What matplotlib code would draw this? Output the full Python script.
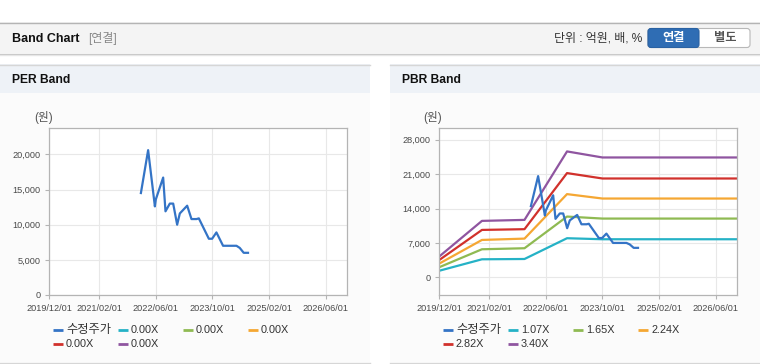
import matplotlib
matplotlib.use("Agg")
import matplotlib.pyplot as plt
import matplotlib.dates as mdates
from matplotlib.patches import Rectangle, FancyBboxPatch
import pandas as pd

plt.rcParams['font.family'] = ['Liberation Sans', 'Noto Sans CJK KR', 'DejaVu Sans']

# 수정주가 (원)
price_dates = ["2022-01-25", "2022-03-28", "2022-05-25", "2022-06-02", "2022-08-04",
               "2022-08-24", "2022-09-30", "2022-10-29", "2022-12-02", "2022-12-25",
               "2023-02-26", "2023-04-04", "2023-05-17", "2023-06-06", "2023-08-31",
               "2023-09-28", "2023-11-04", "2023-12-31", "2024-04-24", "2024-05-22",
               "2024-06-25", "2024-08-01"]
price_values = [14500, 20600, 12600, 13600, 16700,
                11900, 13000, 13000, 10000, 11600,
                12700, 10800, 10800, 10900, 8000,
                8000, 8900, 7000, 7000, 6700,
                6000, 6000]

# PBR 밴드 (원)
band_dates = ["2019-12-01", "2020-12-01", "2021-12-01", "2022-12-01", "2023-10-01", "2026-12-01"]
band_107 = [1340, 3670, 3730, 7960, 7750, 7750]
band_165 = [2060, 5710, 5920, 12370, 11960, 11960]
band_224 = [2800, 7610, 7880, 16940, 16040, 16040]
band_282 = [3530, 9650, 9800, 21220, 20120, 20120]
band_340 = [4250, 11490, 11690, 25630, 24400, 24400]

per_labels = ["0.00X", "0.00X", "0.00X", "0.00X", "0.00X"]
pbr_labels = ["1.07X", "1.65X", "2.24X", "2.82X", "3.40X"]

xtick_dates = ["2019-12-01", "2021-02-01", "2022-06-01", "2023-10-01", "2025-02-01", "2026-06-01"]
per_yticks = [0, 5000, 10000, 15000, 20000]
pbr_yticks = [0, 7000, 14000, 21000, 28000]

price_color = "#3474c6"
band_colors = ["#25b2c6", "#8fba52", "#f5a733", "#d1312c", "#8f55a0"]

fig = plt.figure(figsize=(7.6, 3.64), dpi=100)
fig.patch.set_facecolor("white")

# 배경 (픽셀 좌표)
bg = fig.add_axes([0, 0, 1, 1], zorder=-10)
bg.set_xlim(0, 760)
bg.set_ylim(364, 0)
bg.axis("off")

bg.add_patch(Rectangle((0, 22), 760, 31, facecolor="#f4f4f4", edgecolor="none"))
bg.plot([0, 760], [22.5, 22.5], color="#b4b4b4", lw=1)
bg.plot([0, 760], [53.5, 53.5], color="#c4c4c4", lw=1)
bg.plot([0, 760], [54.5, 54.5], color="#e6e6e6", lw=1)
bg.text(12, 38.5, "Band Chart", fontsize=9, fontweight="bold", color="#111", va="center")
bg.text(88, 38.5, "[연결]", fontsize=8.6, color="#888", va="center")
bg.text(642, 38.5, "단위 : 억원, 배, %", fontsize=8.6, color="#333", va="center", ha="right")
bg.add_patch(FancyBboxPatch((648, 28.5), 102, 19, boxstyle="round,pad=0,rounding_size=3",
                            facecolor="white", edgecolor="#b8b8b8", lw=0.8))
bg.add_patch(FancyBboxPatch((648, 28.5), 51, 19, boxstyle="round,pad=0,rounding_size=3",
                            facecolor="#2f6db4", edgecolor="#2a62a3", lw=0.8))
bg.text(673.5, 38.5, "연결", fontsize=8.8, fontweight="bold", color="white", ha="center", va="center")
bg.text(725, 38.5, "별도", fontsize=8.8, fontweight="bold", color="#555", ha="center", va="center")

panels = [(0, 370, "PER Band"), (390, 760, "PBR Band")]
for x0, x1, title in panels:
    bg.add_patch(Rectangle((x0, 64), x1 - x0, 29, facecolor="#eef2f7", edgecolor="none"))
    bg.add_patch(Rectangle((x0, 93), x1 - x0, 269, facecolor="#fbfbfb", edgecolor="none"))
    bg.plot([x0, x1], [64.5, 64.5], color="#d6d6d6", lw=1)
    bg.plot([x0, x1], [362.5, 362.5], color="#d6d6d6", lw=1)
    bg.text(x0 + 12, 80, title, fontsize=8.7, fontweight="bold", color="#111", va="center")


def style_axes(ax, yticks, ylim):
    ax.set_facecolor("white")
    ax.set_xlim(pd.Timestamp("2019-12-01"), pd.Timestamp("2026-12-01"))
    ax.set_ylim(*ylim)
    ax.set_xticks(pd.to_datetime(xtick_dates))
    ax.xaxis.set_major_formatter(mdates.DateFormatter("%Y/%m/%d"))
    ax.set_yticks(yticks)
    ax.set_yticklabels([f"{v:,}" for v in yticks])
    ax.tick_params(labelsize=6.6, colors="#b4b4b4", labelcolor="#4a4a4a", length=3, width=0.8)
    ax.grid(True, color="#e8e8e8", lw=0.8)
    ax.set_axisbelow(True)
    for s in ax.spines.values():
        s.set_color("#b4b4b4")
        s.set_linewidth(0.9)


ax1 = fig.add_axes([49.3 / 760, 1 - 295 / 364, 298 / 760, 167 / 364])
style_axes(ax1, per_yticks, (0, 23750))
ax1.plot(pd.to_datetime(price_dates), price_values, color=price_color, lw=1.6)

ax2 = fig.add_axes([439.3 / 760, 1 - 295 / 364, 298 / 760, 167 / 364])
style_axes(ax2, pbr_yticks, (-3600, 30400))
bd = pd.to_datetime(band_dates)
for vals, c in zip([band_107, band_165, band_224, band_282, band_340], band_colors):
    ax2.plot(bd, vals, color=c, lw=1.6)
ax2.plot(pd.to_datetime(price_dates), price_values, color=price_color, lw=1.6)

# (원) 라벨
bg.text(44, 117, "(원)", fontsize=8.4, color="#555", ha="center", va="center")
bg.text(433, 117, "(원)", fontsize=8.4, color="#555", ha="center", va="center")

# 범례
for x0, labels in [(53, per_labels), (443, pbr_labels)]:
    items = [("수정주가", price_color)] + list(zip(labels, band_colors))
    for i, (lab, c) in enumerate(items):
        row, col = divmod(i, 4)
        lx = x0 + col * 65
        ly = 330 + row * 14
        bg.plot([lx, lx + 10], [ly, ly], color=c, lw=2, solid_capstyle="butt")
        fs = 8.8 if i == 0 else 7.8
        bg.text(lx + 13, ly, lab, fontsize=fs, color="#333", va="center")

fig.savefig("out.png", dpi=100)
